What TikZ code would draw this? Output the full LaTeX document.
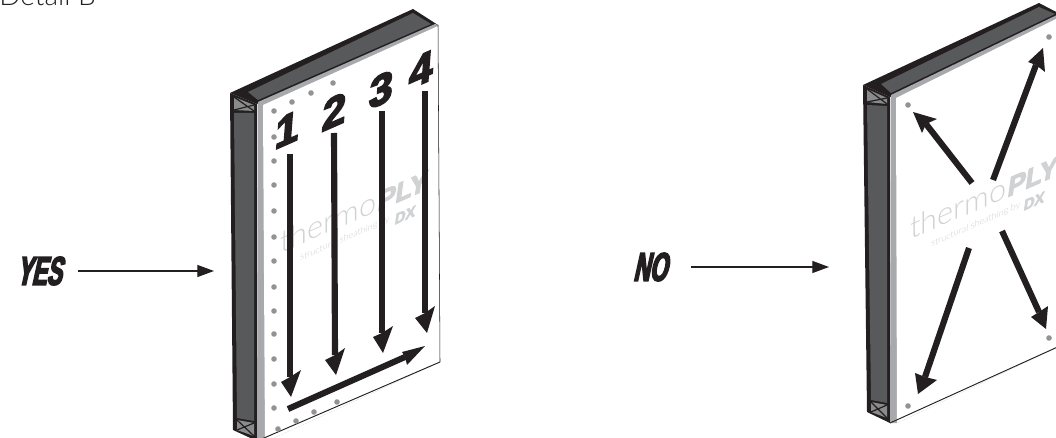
\documentclass[tikz,border=0pt]{standalone}
\usepackage{fontspec}
\usetikzlibrary{arrows.meta,calc,positioning}
\setmainfont{Lato Light}
\newfontfamily\heavyfont[FakeBold=4,FakeSlant=0.22,FakeStretch=0.56]{Liberation Sans Bold}
\newfontfamily\stepfont[FakeBold=4,FakeSlant=0.08]{Liberation Sans Bold}
\newfontfamily\plyfont[FakeBold=4,FakeSlant=0.15]{Liberation Sans Bold}
\definecolor{boxgray}{HTML}{58595B}
\definecolor{stripgray}{HTML}{A7A9AC}
\definecolor{inkblack}{HTML}{231F20}
\definecolor{markgray}{HTML}{D1D2D4}

% the box itself, from the coordinates a,b,c,f,g,h,r,q of the current panel
\newcommand{\sheathframe}{
  \fill[inkblack] (a)--(b)--(c)--(f)--cycle;
  \fill[boxgray] ($(a)+(18,-1)$)--($(b)+(0,4)$)--($(c)+(-7,-1)$)--($(f)+(1,-4)$)--cycle;
  \fill[inkblack] (a)--(f)--(h)--(g)--cycle;
  \fill[boxgray] ($(a)+(4,20)$)--($(f)+(-3,9)$)--($(h)+(-3,-20)$)--($(g)+(4,-12)$)--cycle;
  % bracing at both ends
  \fill[boxgray!70] ($(a)+(4,4)$)--($(f)+(-3,1)$)--($(f)+(-3,7)$)--($(a)+(4,17)$)--cycle;
  \draw[inkblack,line width=.9pt] ($(a)+(4,4)$)--($(f)+(-3,7)$) ($(a)+(4,17)$)--($(f)+(-3,1)$);
  \fill[boxgray!70] ($(g)+(4,-10)$)--($(h)+(-3,-18)$)--($(h)+(-3,-5)$)--($(g)+(4,0)$)--cycle;
  \draw[inkblack,line width=.9pt] ($(g)+(4,-10)$)--($(h)+(-3,-5)$) ($(g)+(4,0)$)--($(h)+(-3,-18)$);
  \fill[stripgray] ($(f)+(1,-2)$)--($(c)+(-3,-1)$)--(c)--(q)--(r)--(h)--cycle;
  \fill[white] ($(f)+(6,1)$)--($(c)+(0,1)$)--(q)--(r)--cycle;
  \draw[inkblack,line width=.4pt] (c)--(q);
  \draw[inkblack,line width=.7pt] (q)--(h);
}
% thick arrow with a sheared head
\newcommand{\markarrow}[5]{
  \draw[shaft] #1--#2;
  \fill[inkblack] #3--#4--#2--#5--cycle;
}

\begin{document}
\begin{tikzpicture}[x=.75pt,y=-.75pt,
  shaft/.style={draw=inkblack,line width=4.6pt},
  hole/.style={fill=gray!85},
  brand/.style={text=markgray,inner sep=0pt,yslant=.44},
  pointer/.style={draw=inkblack,line width=.9pt,-{Triangle[length=12.5pt,width=9pt]}},
  sign/.style={text=inkblack,inner sep=0pt,font=\heavyfont\fontsize{30}{30}\selectfont},
  stepnum/.style={text=inkblack,inner sep=0pt,yslant=.44,font=\stepfont\fontsize{32}{32}\selectfont}
]
\useasboundingbox (0,0) rectangle (1056,438);
\clip (0,0) rectangle (1056,438);
\fill[white] (0,0) rectangle (1056,438);

\node[anchor=base west,inner sep=0pt,font=\fontsize{21}{21}\selectfont,text=inkblack] (detail) at (-1,6) {Detail B};

%% left panel
\begin{scope}
\coordinate (a) at (230,93);
\coordinate (b) at (413,9);
\coordinate (c) at (438,25);
\coordinate (f) at (257,104);
\coordinate (g) at (233,430);
\coordinate (h) at (257,441);
\coordinate (r) at (265,442);
\coordinate (q) at (440,362);
\sheathframe
\foreach \hx/\hy in {274/111,274/137,274/161,274/185,274/211,274/237,274/261,274/287,274/311,274/334,274/359,274/384,274/408,278/429,
  292/102,311/93,333/83,296/421,314/412,337/402}
  \fill[hole] (\hx,\hy) circle (2.8);
\node[brand,anchor=base west,font=\fontsize{23}{23}\selectfont] (thermoL) at (280,254) {thermo};
\node[brand,anchor=base west,font=\plyfont\fontsize{20}{20}\selectfont] (plyL) at (thermoL.base east) {PLY};
\node[brand,anchor=base west,font=\fontsize{6.8}{6.8}\selectfont] (tagL) at (300,261) {structural sheathing by};
\node[brand,anchor=base west,font=\plyfont\fontsize{11}{11}\selectfont] (dxL) at (394,225) {DX};
\node[stepnum] (one) at (286,130) {1};
\node[stepnum] (two) at (333,112) {2};
\node[stepnum] (three) at (380,90) {3};
\node[stepnum] (four) at (420,70) {4};
\markarrow{(290,154)}{(290,377)}{(291,397)}{(281,382)}{(301,370)}
\markarrow{(334,133)}{(335,355)}{(336,375)}{(325,360)}{(345,348)}
\markarrow{(382,111)}{(382,333)}{(383,353)}{(373,337)}{(393,326)}
\markarrow{(425,91)}{(425,313)}{(427,333)}{(415,318)}{(435,306)}
\markarrow{(288,409)}{(405,357)}{(425,346)}{(402,352)}{(407,365)}
\end{scope}

\node[sign] (yes) at (39,271) {YES};
\coordinate (yestip) at (214,271);
\draw[pointer,shorten <=12pt] (yes)--(yestip);

%% right panel
\begin{scope}
\coordinate (a) at (863,85);
\coordinate (b) at (1039,3);
\coordinate (c) at (1062,15);
\coordinate (f) at (890,97);
\coordinate (g) at (867,412);
\coordinate (h) at (890,423);
\coordinate (r) at (897,423);
\coordinate (q) at (1062,345);
\sheathframe
\foreach \hx/\hy in {908/105,1049/37,908/406,1049/338}
  \fill[hole] (\hx,\hy) circle (2.8);
\node[brand,anchor=base west,font=\fontsize{23}{23}\selectfont] (thermoR) at (910,240) {thermo};
\node[brand,anchor=base west,font=\plyfont\fontsize{20}{20}\selectfont] (plyR) at (thermoR.base east) {PLY};
\node[brand,anchor=base west,font=\fontsize{6.8}{6.8}\selectfont] (tagR) at (931,247) {structural sheathing by};
\node[brand,anchor=base west,font=\plyfont\fontsize{11}{11}\selectfont] (dxR) at (1023,211) {DX};
\markarrow{(972,183)}{(926,124)}{(913,112)}{(937,119)}{(922,133)}
\markarrow{(993,180)}{(1036,65)}{(1043,48)}{(1028,62)}{(1045,72)}
\markarrow{(969,248)}{(925,377)}{(918,394)}{(915,373)}{(937,380)}
\markarrow{(1002,231)}{(1039,312)}{(1046,329)}{(1031,317)}{(1048,306)}
\end{scope}

\node[sign] (no) at (650,267) {NO};
\coordinate (notip) at (829,267);
\draw[pointer,shorten <=18pt] (no)--(notip);
\end{tikzpicture}
\end{document}
